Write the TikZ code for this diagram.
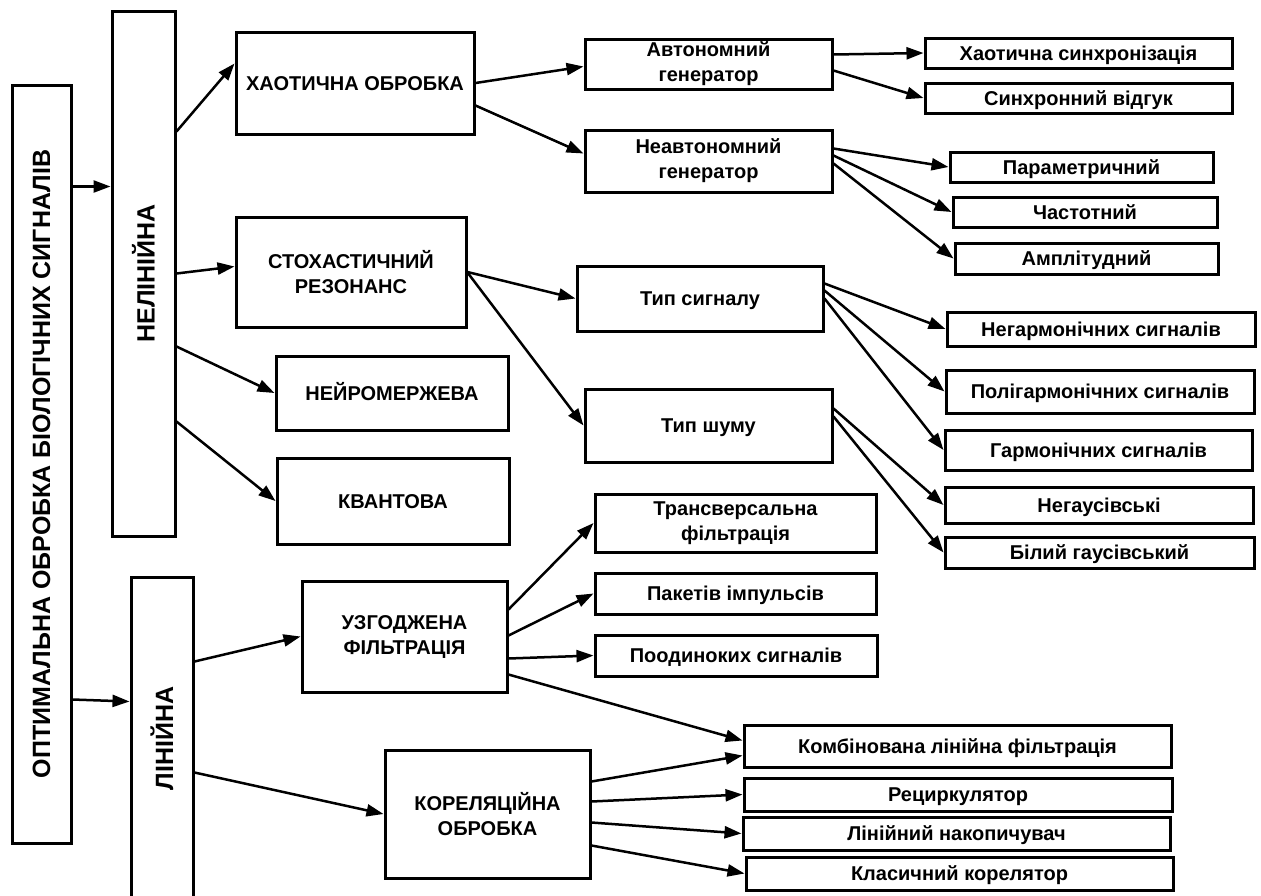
\documentclass[tikz,border=0pt]{standalone}
\usepackage{fontspec}
\setmainfont{Liberation Sans}
\usetikzlibrary{arrows.meta, calc}

\begin{document}
\begin{tikzpicture}[x=1pt, y=-1pt,
      blk/.style={draw, line width=3pt, inner sep=0pt, align=center, font=\fontsize{20}{25}\selectfont\bfseries},
      one/.style={blk, text height=14.5pt, text depth=0pt},
      big/.style={blk, font=\fontsize{25}{30}\selectfont\bfseries},
      sz/.style 2 args={minimum width=#1pt, minimum height=#2pt},
      arr/.style={-{Triangle[length=17pt, width=12pt]}, line width=2.5pt}]

      \useasboundingbox (0,0) rectangle (1261,895);

      \node[big, sz={59}{758}] (main) at (41.5,464) {\rotatebox{90}{ОПТИМАЛЬНА ОБРОБКА БІОЛОГІЧНИХ СИГНАЛІВ}};
      \node[big, sz={63}{525}] (nel) at (143.5,273.5) {\rotatebox{90}{НЕЛІНІЙНА}};
      \node[big, sz={62}{323}] (lin) at (162,738.5) {\rotatebox{90}{ЛІНІЙНА}};

      \node[one, sz={238}{102}] (hao) at (355,83) {ХАОТИЧНА ОБРОБКА};
      \node[blk, sz={230}{110}] (stoh) at (351,272) {СТОХАСТИЧНИЙ\\РЕЗОНАНС};
      \node[one, sz={232}{74}] (neur) at (392,393) {НЕЙРОМЕРЖЕВА};
      \node[one, sz={232}{86}] (kvant) at (393,501) {КВАНТОВА};

      \node[blk, sz={247}{50}] (avt) at (708.5,64) {Автономний\\генератор};
      \node[blk, sz={247}{62}] (neavt) at (708.5,161) {Неавтономний\\генератор};
      \node[one, sz={246}{65}] (tsig) at (700,298.5) {Тип сигналу};
      \node[one, sz={247}{73}] (tshum) at (708.5,425.5) {Тип шуму};

      \node[one, sz={307}{30}] (sync) at (1078.5,53) {Хаотична синхронізація};
      \node[one, sz={307}{30}] (vidg) at (1078.5,98) {Синхронний відгук};
      \node[one, sz={263}{30}] (param) at (1081.5,167) {Параметричний};
      \node[one, sz={264}{30}] (chast) at (1085,212) {Частотний};
      \node[one, sz={263}{31}] (ampl) at (1086.5,258.5) {Амплітудний};
      \node[one, sz={308}{34}] (negarm) at (1101,329) {Негармонічних сигналів};
      \node[one, sz={308}{43}] (poli) at (1100,391.5) {Полігармонічних сигналів};
      \node[one, sz={307}{40}] (garm) at (1098.5,450) {Гармонічних сигналів};
      \node[one, sz={308}{36}] (negaus) at (1099,505) {Негаусівські};
      \node[one, sz={309}{31}] (bilyi) at (1099.5,552.5) {Білий гаусівський};

      \node[blk, sz={205}{111}] (uzg) at (404.5,636.5) {УЗГОДЖЕНА\\ФІЛЬТРАЦІЯ};
      \node[blk, sz={205}{128}] (kor) at (487.5,814) {КОРЕЛЯЦІЙНА\\ОБРОБКА};

      \node[blk, sz={281}{58}] (transv) at (735.5,523) {Трансверсальна\\фільтрація};
      \node[one, sz={281}{41}] (paket) at (735.5,593.5) {Пакетів імпульсів};
      \node[one, sz={282}{41}] (poodyn) at (736,655.5) {Поодиноких сигналів};
      \node[one, sz={427}{42}] (komb) at (957.5,746) {Комбінована лінійна фільтрація};
      \node[one, sz={428}{33}] (rec) at (958,794.5) {Рециркулятор};
      \node[one, sz={427}{33}] (nakop) at (956.5,833.5) {Лінійний накопичувач};
      \node[one, sz={427}{33}] (klas) at (959.5,873.5) {Класичний корелятор};

      \draw[arr] ($(main.north east)+(0,103)$)--($(nel.north west)+(0,177)$); \draw[arr] ($(main.north east)+(0,616)$)--($(lin.north west)+(0,126)$);
      \draw[arr] ($(nel.north east)+(0,122)$)--($(hao.north west)+(0,33)$); \draw[arr] ($(nel.north east)+(0,264)$)--($(stoh.north west)+(0,51)$);
      \draw[arr] ($(nel.north east)+(0,337)$)--(neur.west); \draw[arr] ($(nel.north east)+(0,412)$)--(kvant.west);
      \draw[arr] (hao.east)--($(avt.north west)+(0,29)$); \draw[arr] ($(hao.north east)+(0,75)$)--($(neavt.north west)+(0,25)$);
      \draw[arr] (stoh.east)--(tsig.west); \draw[arr] ($(stoh.north east)+(0,57)$)--(tshum.west);
      \draw[arr] ($(avt.north east)+(0,17)$)--(sync.west); \draw[arr] ($(avt.north east)+(0,33)$)--(vidg.west);
      \draw[arr] ($(neavt.north east)+(0,20)$)--(param.west); \draw[arr] ($(neavt.north east)+(0,27)$)--(chast.west); \draw[arr] ($(neavt.north east)+(0,35)$)--(ampl.west);
      \draw[arr] ($(tsig.north east)+(0,19)$)--(negarm.west); \draw[arr] ($(tsig.north east)+(0,26)$)--(poli.west); \draw[arr] ($(tsig.north east)+(0,34)$)--(garm.west);
      \draw[arr] ($(tshum.north east)+(0,21)$)--(negaus.west); \draw[arr] ($(tshum.north east)+(0,29)$)--(bilyi.west);
      \draw[arr] ($(lin.north east)+(0,86)$)--(uzg.west); \draw[arr] ($(lin.north east)+(0,197)$)--(kor.west);
      \draw[arr] ($(uzg.north east)+(0,30)$)--(transv.west); \draw[arr] ($(uzg.north east)+(0,56)$)--(paket.west); \draw[arr] ($(uzg.north east)+(0,79)$)--(poodyn.west);
      \draw[arr] ($(uzg.north east)+(0,95)$)--($(komb.north west)+(0,17)$); \draw[arr] ($(kor.north east)+(0,33)$)--($(komb.north west)+(0,32)$);
      \draw[arr] ($(kor.north east)+(0,53)$)--(rec.west); \draw[arr] ($(kor.north east)+(0,74)$)--(nakop.west); \draw[arr] ($(kor.north east)+(0,97)$)--(klas.west);
    \end{tikzpicture}
\end{document}
